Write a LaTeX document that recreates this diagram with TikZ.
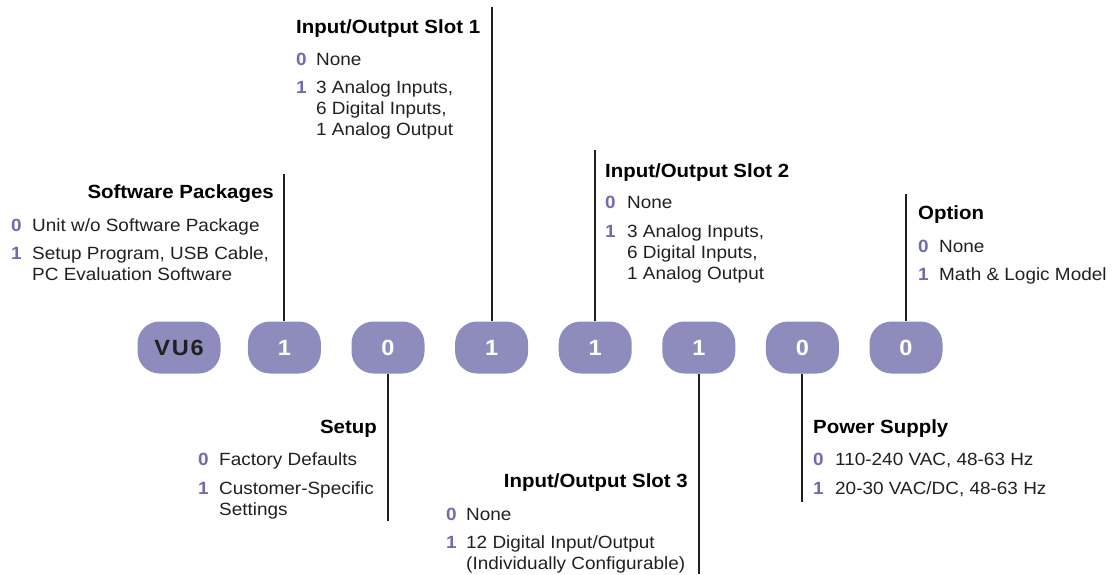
\documentclass[tikz,border=0pt]{standalone}
\usepackage{fontspec}
\setmainfont{Liberation Sans}[FakeStretch=1.07]
\definecolor{feldfarbe}{RGB}{142,140,188}
\definecolor{zifferfarbe}{RGB}{111,107,176}
\definecolor{textfarbe}{RGB}{35,31,32}
\newcommand{\grundschrift}{\fontsize{17.7}{21}\selectfont}
\newcommand{\titelschrift}{\fontsize{19.1}{23}\selectfont\bfseries}
\newcommand{\feldschrift}{\fontsize{22}{26}\selectfont\bfseries}
\tikzset{
  feld/.style={fill=feldfarbe, rounded corners=22pt, minimum width=73pt,
    minimum height=52pt, inner sep=0pt, font=\feldschrift, text=white},
  linie/.style={line width=2pt, draw=textfarbe},
  titel/.style={font=\titelschrift, inner sep=0pt, text=black},
  eintrag/.style={font=\grundschrift, inner sep=0pt, align=left, text=textfarbe, anchor=base west},
  ziffer/.style={font=\grundschrift\bfseries, inner sep=0pt, text=zifferfarbe, anchor=base west},
}
\begin{document}
\begin{tikzpicture}[x=1pt,y=-1pt]
        \useasboundingbox (0,0) rectangle (1112,574);
        % Felder
        \node[feld, minimum width=83pt, text=textfarbe] (vu) at (179,347.5)
            {\addfontfeature{LetterSpace=8}VU6};
        \foreach \i/\v in {1/1,2/0,3/1,4/1,5/1,6/0,7/0}{
            \node[feld] (p\i) at (284.4+103.6*\i-103.6,347.5) {\v};
        }
        % Linien
        \coordinate (swend) at ([yshift=147pt]p1.north);
        \coordinate (suend) at ([yshift=-147pt]p2.south);
        \coordinate (s1end) at ([yshift=314pt]p3.north);
        \coordinate (s2end) at ([yshift=171pt]p4.north);
        \coordinate (s3end) at ([yshift=-200pt]p5.south);
        \coordinate (psend) at ([yshift=-128pt]p6.south);
        \coordinate (opend) at ([yshift=127pt]p7.north);
        \draw[linie] (p1.north) -- (swend);
        \draw[linie] (p2.south) -- (suend);
        \draw[linie] (p3.north) -- (s1end);
        \draw[linie] (p4.north) -- (s2end);
        \draw[linie] (p5.south) -- (s3end);
        \draw[linie] (p6.south) -- (psend);
        \draw[linie] (p7.north) -- (opend);
        % Software Packages (mehrzeilige Texte: Grundlinie der letzten Zeile)
        \node[titel, anchor=base east] (swtit) at (274,198) {Software Packages};
        \node[ziffer] (swz0) at (11,231) {0};
        \node[eintrag] (swt0) at (32,231) {Unit w/o Software Package};
        \node[ziffer] (swz1) at (11,259) {1};
        \node[eintrag] (swt1) at (32,280) {Setup Program, USB Cable,\\PC Evaluation Software};
        % Input/Output Slot 1
        \node[titel, anchor=base west] (s1tit) at (296,33) {Input/Output Slot 1};
        \node[ziffer] (s1z0) at (296,65) {0};
        \node[eintrag] (s1t0) at (316,65) {None};
        \node[ziffer] (s1z1) at (296,93) {1};
        \node[eintrag] (s1t1) at (316,135) {3 Analog Inputs,\\6 Digital Inputs,\\1 Analog Output};
        % Setup
        \node[titel, anchor=base east] (sutit) at (377,433) {Setup};
        \node[ziffer] (suz0) at (198,465) {0};
        \node[eintrag] (sut0) at (219,465) {Factory Defaults};
        \node[ziffer] (suz1) at (198,494) {1};
        \node[eintrag] (sut1) at (219,515) {Customer-Specific\\Settings};
        % Input/Output Slot 3
        \node[titel, anchor=base east] (s3tit) at (688,487.5) {Input/Output Slot 3};
        \node[ziffer] (s3z0) at (446,520) {0};
        \node[eintrag] (s3t0) at (466,520) {None};
        \node[ziffer] (s3z1) at (446,548) {1};
        \node[eintrag] (s3t1) at (466,569) {12 Digital Input/Output\\(Individually Configurable)};
        % Input/Output Slot 2
        \node[titel, anchor=base west] (s2tit) at (605,177) {Input/Output Slot 2};
        \node[ziffer] (s2z0) at (605,208) {0};
        \node[eintrag] (s2t0) at (627,208) {None};
        \node[ziffer] (s2z1) at (605,237) {1};
        \node[eintrag] (s2t1) at (627,279) {3 Analog Inputs,\\6 Digital Inputs,\\1 Analog Output};
        % Power Supply
        \node[titel, anchor=base west] (pstit) at (813,433) {Power Supply};
        \node[ziffer] (psz0) at (813,465) {0};
        \node[eintrag] (pst0) at (835,465) {110-240 VAC, 48-63 Hz};
        \node[ziffer] (psz1) at (813,494) {1};
        \node[eintrag] (pst1) at (835,494) {20-30 VAC/DC, 48-63 Hz};
        % Option
        \node[titel, anchor=base west] (optit) at (918,219) {Option};
        \node[ziffer] (opz0) at (918,252) {0};
        \node[eintrag] (opt0) at (939,252) {None};
        \node[ziffer] (opz1) at (918,280) {1};
        \node[eintrag] (opt1) at (939,280) {Math \& Logic Model};
\end{tikzpicture}
\end{document}
